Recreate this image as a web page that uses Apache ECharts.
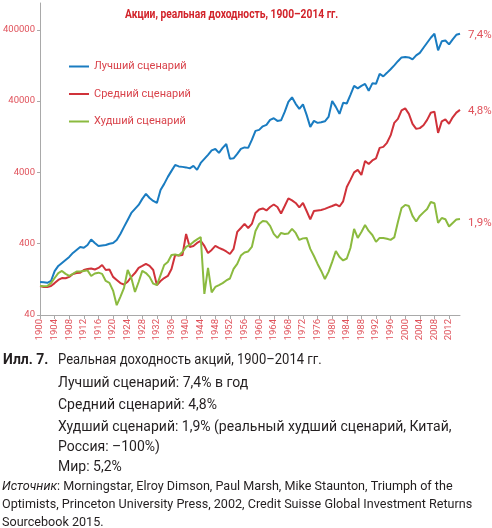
<!DOCTYPE html>
<html>
<head>
<meta charset="utf-8">
<script src="https://cdn.jsdelivr.net/npm/echarts@6/dist/echarts.min.js"></script>
<style>
html,body{margin:0;padding:0;background:#fff;}
#chart{width:492px;height:528px;}
</style>
</head>
<body>
<div id="chart"></div>
<script>
// ---- data ----
const years = [];
for (let y = 1900; y <= 2015; y++) years.push(String(y));

const chartTitle = 'Акции, реальная доходность, 1900–2014 гг.';
const seriesNames = ['Лучший сценарий', 'Средний сценарий', 'Худший сценарий'];
const endLabels = ['7,4%', '4,8%', '1,9%'];
const yTickValues = [40, 400, 4000, 40000, 400000];

const best = [
116,115,113,120,165,195,215,237,261,297,
327,360,350,384,459,410,372,378,384,400,
410,452,548,688,862,1080,1230,1400,1700,2000,
1750,1590,1490,2270,2760,3460,4200,5090,4850,4780,
4700,4550,4930,4340,5430,6190,7050,8140,8500,7500,
8830,10000,6190,6300,7270,8550,8970,8830,11430,15300,
15790,17700,18600,21800,23000,21100,21500,28200,39000,45200,
36600,31100,36000,25600,17400,21100,19800,20200,20800,24000,
40000,33200,26500,37800,37000,49000,65500,60400,65500,69800,
55700,71000,69800,96400,88900,99600,112000,127000,145000,164000,
166000,164000,154000,175000,190000,224000,263000,309000,352000,206000,
276000,283000,250000,294000,340000,352000
];

const middle = [
102,99,99,102,112,124,132,131,137,150,
155,157,171,177,180,174,183,201,171,174,
137,124,112,107,117,137,155,183,195,208,
195,171,105,120,132,141,177,278,273,278,
548,360,372,410,437,372,297,327,372,350,
332,311,287,338,585,665,757,665,757,1080,
1210,1250,1170,1310,1420,1310,1060,1350,1730,1620,
1490,1290,1490,1150,875,1150,1170,1190,1230,1290,
1350,1420,1330,1570,2500,3140,4000,4340,3690,5790,
5260,5890,6280,8830,9120,10400,13200,19800,22500,29600,
31600,26500,19200,16300,16700,18300,21800,27400,28500,14300,
20800,22200,19200,23700,27600,30100
];

const worst = [
102,101,102,112,132,155,166,151,141,151,
163,163,166,169,141,153,157,151,120,113,
88,55,72,96,171,132,84,116,166,155,
137,110,105,145,201,222,278,283,273,306,
360,384,424,459,496,79,183,83,99,105,
112,122,130,177,208,273,301,311,360,604,
757,834,820,710,548,482,566,548,557,644,
566,452,475,482,338,269,208,166,128,161,
222,316,261,233,248,348,644,482,585,733,
604,530,424,482,482,470,452,490,807,1270,
1400,1350,981,820,981,1100,1230,1540,1480,782,
918,881,698,782,875,889
];

const captionHead = 'Илл. 7.';
const captionTitle = 'Реальная доходность акций, 1900–2014 гг.';
const captionLines = [
  'Лучший сценарий: 7,4% в год',
  'Средний сценарий: 4,8%',
  'Худший сценарий: 1,9% (реальный худший сценарий, Китай,',
  'Россия: –100%)',
  'Мир: 5,2%'
];
const sourceLines = [
  '{i|Источник}: Morningstar, Elroy Dimson, Paul Marsh, Mike Staunton, Triumph of the',
  'Optimists, Princeton University Press, 2002, Credit Suisse Global Investment Returns',
  'Sourcebook 2015.'
];

// ---- styles / layout ----
const colors = ['#1a7cc1', '#d0323a', '#8bba3f'];
const labelRed = '#e0525b';
const FONT = 'Roboto, "Noto Sans", sans-serif';
const textColor = '#231f20';
const captionY = [383, 405, 427, 447, 467];
const sourceY = [487, 505, 523];

const chart = echarts.init(document.getElementById('chart'), null, {renderer: 'canvas'});

const seriesData = [best, middle, worst];
const series = seriesData.map((d, i) => ({
  name: seriesNames[i],
  type: 'line',
  data: d,
  symbol: 'none',
  smooth: false,
  lineStyle: {color: colors[i], width: 2},
  itemStyle: {color: colors[i]},
  endLabel: {
    show: true,
    formatter: endLabels[i],
    color: labelRed,
    fontFamily: FONT,
    fontSize: 11.5,
    distance: 8,
    offset: i === 2 ? [0, 4] : [0, 1]
  },
  emphasis: {disabled: true}
}));

const graphics = [
  {type: 'text', x: 125, y: 15, scaleX: 0.79, originX: 0,
   style: {text: chartTitle, fontFamily: FONT, fontWeight: 'bold', fontSize: 13, fill: '#d2232a', verticalAlign: 'middle'}},
  {type: 'text', x: 3, y: 360, style: {text: captionHead, fontFamily: FONT, fontWeight: 'bold', fontSize: 14, fill: textColor, verticalAlign: 'middle'}},
  {type: 'text', x: 58, y: 360, scaleX: 0.93, originX: 0,
   style: {text: captionTitle, fontFamily: FONT, fontSize: 14, fill: textColor, verticalAlign: 'middle'}}
];
captionLines.forEach((t, k) => graphics.push({
  type: 'text', x: 58, y: captionY[k],
  style: {text: t, fontFamily: FONT, fontSize: 14, fill: textColor, verticalAlign: 'middle'}
}));
sourceLines.forEach((t, k) => graphics.push({
  type: 'text', x: 2, y: sourceY[k],
  style: {
    text: t, fontFamily: FONT, fontSize: 12.6, fill: textColor, verticalAlign: 'middle',
    rich: {i: {fontFamily: FONT, fontSize: 12.6, fontStyle: 'italic', fill: textColor}}
  }
}));

chart.setOption({
  animation: false,
  backgroundColor: '#fff',
  legend: {
    orient: 'vertical',
    left: 69, top: 61,
    padding: 0,
    icon: 'rect',
    itemWidth: 20, itemHeight: 2,
    itemGap: 16.5,
    data: seriesNames,
    textStyle: {color: '#d9434b', fontFamily: FONT, fontSize: 11}
  },
  grid: {left: 38, right: 32, top: 3, bottom: 213, containLabel: false},
  xAxis: {
    type: 'category',
    data: years,
    boundaryGap: false,
    axisLine: {lineStyle: {color: '#a9a9a9', width: 1}},
    axisTick: {interval: 3, length: 4, lineStyle: {color: '#a9a9a9'}},
    axisLabel: {interval: 3, rotate: 90, color: labelRed, fontFamily: FONT, fontSize: 9.5, margin: 4},
    splitLine: {show: false}
  },
  yAxis: {
    type: 'log',
    logBase: 10,
    min: 40,
    max: 950000,
    axisLine: {show: true, lineStyle: {color: '#a9a9a9', width: 1}},
    axisTick: {show: true, length: 3, customValues: yTickValues, lineStyle: {color: '#a9a9a9'}},
    axisLabel: {
      customValues: yTickValues,
      color: labelRed, fontFamily: FONT, fontSize: 9.5, margin: 5,
      formatter: v => String(Math.round(v))
    },
    splitLine: {show: false}
  },
  series: series,
  graphic: graphics
});
</script>
</body>
</html>
